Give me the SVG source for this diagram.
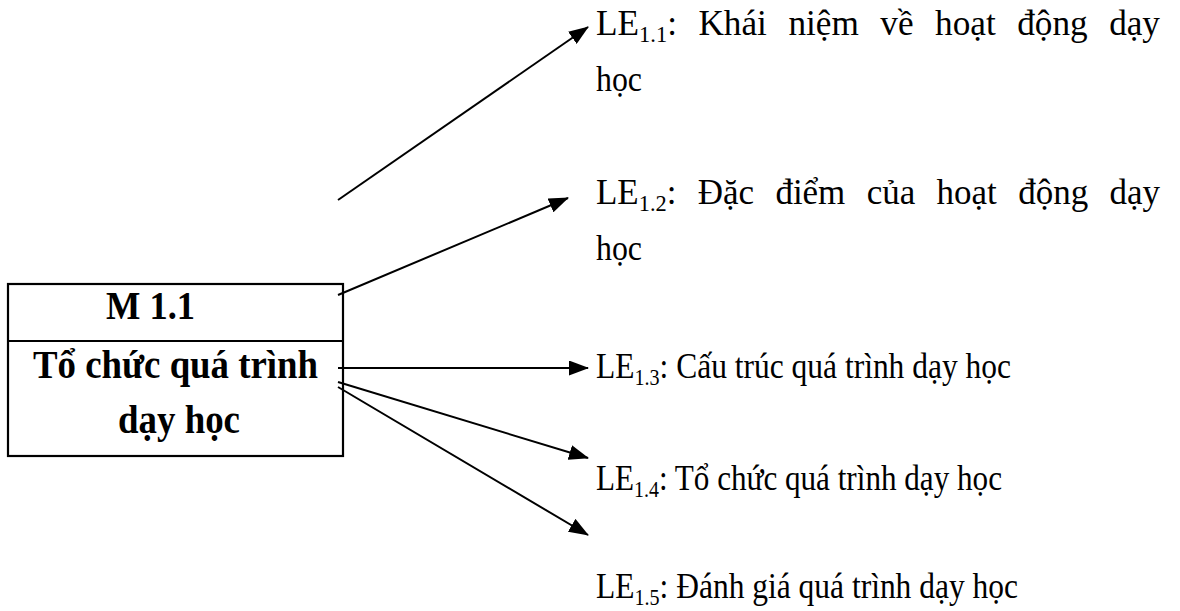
<svg xmlns="http://www.w3.org/2000/svg" width="1180" height="611" viewBox="0 0 1180 611">
<style>
.t{font-family:"Liberation Serif","Times New Roman",serif;font-size:36px;fill:#000}
.b{font-weight:bold;font-size:39px}
.s{font-size:23px}
.c{stroke:#000;stroke-width:2;fill:none}
</style>
<defs>
<marker id="ah" markerWidth="20" markerHeight="15" refX="19" refY="7.5" orient="auto" markerUnits="userSpaceOnUse">
<path d="M0,0 L20,7.5 L0,15 Z" fill="#000"/>
</marker>
</defs>
<rect width="1180" height="611" fill="#fff"/>
<g id="node-m11">
<rect x="8" y="284" width="335" height="172" fill="#fff" stroke="#000" stroke-width="2.2"/>
<line x1="8" y1="341" x2="343" y2="341" stroke="#000" stroke-width="2.2"/>
<text class="t b" x="106" y="319" textLength="89" lengthAdjust="spacingAndGlyphs">M 1.1</text>
<text class="t b" x="33" y="378" textLength="285" lengthAdjust="spacingAndGlyphs">Tổ chức quá trình</text>
<text class="t b" x="118" y="433" textLength="122" lengthAdjust="spacingAndGlyphs">dạy học</text>
</g>
<g id="connectors">
<line class="c" x1="338" y1="200" x2="588" y2="27" marker-end="url(#ah)"/>
<line class="c" x1="338" y1="295" x2="568" y2="198" marker-end="url(#ah)"/>
<line class="c" x1="338" y1="368" x2="588" y2="368" marker-end="url(#ah)"/>
<line class="c" x1="338" y1="382" x2="588" y2="458" marker-end="url(#ah)"/>
<line class="c" x1="338" y1="387" x2="588" y2="535" marker-end="url(#ah)"/>
</g>
<g id="node-le11">
<text class="t" x="596" y="35" word-spacing="13" textLength="564" lengthAdjust="spacingAndGlyphs">LE<tspan class="s" dy="7">1.1</tspan><tspan dy="-7">: Khái niệm về hoạt động dạy</tspan></text>
<text class="t" x="596" y="91" textLength="46" lengthAdjust="spacingAndGlyphs">học</text>
</g>
<g id="node-le12">
<text class="t" x="596" y="204" word-spacing="13" textLength="564" lengthAdjust="spacingAndGlyphs">LE<tspan class="s" dy="7">1.2</tspan><tspan dy="-7">: Đặc điểm của hoạt động dạy</tspan></text>
<text class="t" x="596" y="260" textLength="46" lengthAdjust="spacingAndGlyphs">học</text>
</g>
<g id="node-le13">
<text class="t" x="596" y="378" textLength="415" lengthAdjust="spacingAndGlyphs">LE<tspan class="s" dy="7">1.3</tspan><tspan dy="-7">: Cấu trúc quá trình dạy học</tspan></text>
</g>
<g id="node-le14">
<text class="t" x="596" y="490" textLength="406" lengthAdjust="spacingAndGlyphs">LE<tspan class="s" dy="7">1.4</tspan><tspan dy="-7">: Tổ chức quá trình dạy học</tspan></text>
</g>
<g id="node-le15">
<text class="t" x="596" y="598" textLength="422" lengthAdjust="spacingAndGlyphs">LE<tspan class="s" dy="7">1.5</tspan><tspan dy="-7">: Đánh giá quá trình dạy học</tspan></text>
</g>
</svg>
